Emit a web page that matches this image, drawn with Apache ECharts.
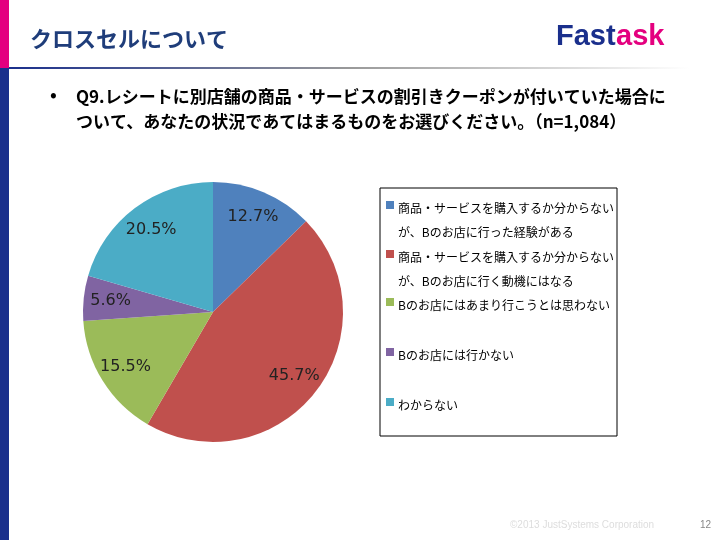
<!DOCTYPE html>
<html><head><meta charset="utf-8">
<script src="https://cdn.jsdelivr.net/npm/echarts@6/dist/echarts.min.js"></script>
<style>html,body{margin:0;padding:0;background:#fff}#chart{width:720px;height:540px}</style>
</head><body><div id="chart"></div>
<script>
var categories = [
    '商品・サービスを購入するか分からない\nが、Bのお店に行った経験がある',
    '商品・サービスを購入するか分からない\nが、Bのお店に行く動機にはなる',
    'Bのお店にはあまり行こうとは思わない',
    'Bのお店には行かない',
    'わからない'
];
var values = [12.7, 45.7, 15.5, 5.6, 20.5];
var colors = ['#4f81bd', '#c0504d', '#9bbb59', '#8064a2', '#4bacc6'];
var legendY = [205, 254, 302, 352, 402];

var FONT = '"Noto Sans CJK JP", sans-serif';
var myChart = echarts.init(document.getElementById('chart'));

var pieData = [];
var labelData = [];
for (let i = 0; i < values.length; i++) {
    pieData.push({ name: categories[i], value: values[i], itemStyle: { color: colors[i] } });
    labelData.push({ name: categories[i], value: values[i] });
}

var graphics = [
    { type: 'rect', shape: { x: 0, y: 0, width: 9, height: 68 }, style: { fill: '#e4007f' } },
    { type: 'rect', shape: { x: 0, y: 68, width: 9, height: 472 }, style: { fill: '#1a2f8c' } },
    {
        type: 'rect', shape: { x: 9, y: 67, width: 680, height: 2 },
        style: { fill: new echarts.graphic.LinearGradient(0, 0, 1, 0, [
            { offset: 0, color: '#1a2f8c' }, { offset: 0.5, color: '#999' }, { offset: 1, color: '#fff' }]) }
    },
    { type: 'text', left: 30, top: 28, style: { text: 'クロスセルについて', font: 'bold 22px ' + FONT, fill: '#1f3d7a' } },
    { type: 'text', left: 556, top: 22, style: { text: 'Fast', font: 'bold 29px Arial, "Liberation Sans", sans-serif', fill: '#1a2f8c' } },
    { type: 'text', left: 616, top: 22, style: { text: 'ask', font: 'bold 29px Arial, "Liberation Sans", sans-serif', fill: '#e4007f' } },
    { type: 'text', left: 50, top: 85, style: { text: '•', font: 'bold 18px ' + FONT, fill: '#000' } },
    { type: 'text', left: 76, top: 84, style: {
        text: 'Q9.レシートに別店舗の商品・サービスの割引きクーポンが付いていた場合に\nついて、あなたの状況であてはまるものをお選びください。（n=1,084）',
        font: 'bold 17px ' + FONT, lineHeight: 25, fill: '#000' } },
    { type: 'rect', shape: { x: 380, y: 188, width: 237, height: 248 }, style: { fill: '#fff', stroke: '#000', lineWidth: 1 } },
    { type: 'text', left: 510, top: 520, style: { text: '©2013 JustSystems Corporation', font: '10px Arial, sans-serif', fill: '#ddd' } },
    { type: 'text', left: 700, top: 520, style: { text: '12', font: '10px Arial, sans-serif', fill: '#888' } }
];
for (let i = 0; i < categories.length; i++) {
    graphics.push({ type: 'rect', shape: { x: 386, y: legendY[i] - 4, width: 8, height: 8 }, style: { fill: colors[i] } });
    graphics.push({ type: 'text', left: 398, top: legendY[i] - 9, style: {
        text: categories[i], font: '12px ' + FONT, lineHeight: 24, fill: '#000' } });
}

var option = {
    animation: false,
    graphic: graphics,
    series: [
        {
            type: 'pie', center: [213, 312], radius: 130, startAngle: 90, clockwise: true,
            data: pieData, label: { show: false }, labelLine: { show: false }, silent: true
        },
        {
            type: 'pie', center: [213, 312], radius: 200, startAngle: 90, clockwise: true,
            data: labelData, silent: true, z: 5,
            itemStyle: { color: 'rgba(0,0,0,0)' },
            label: { show: true, position: 'inside', formatter: '{c}%', color: '#222', fontSize: 16, fontFamily: 'Verdana, "DejaVu Sans", sans-serif' },
            labelLine: { show: false }
        }
    ]
};
myChart.setOption(option);
</script></body></html>
